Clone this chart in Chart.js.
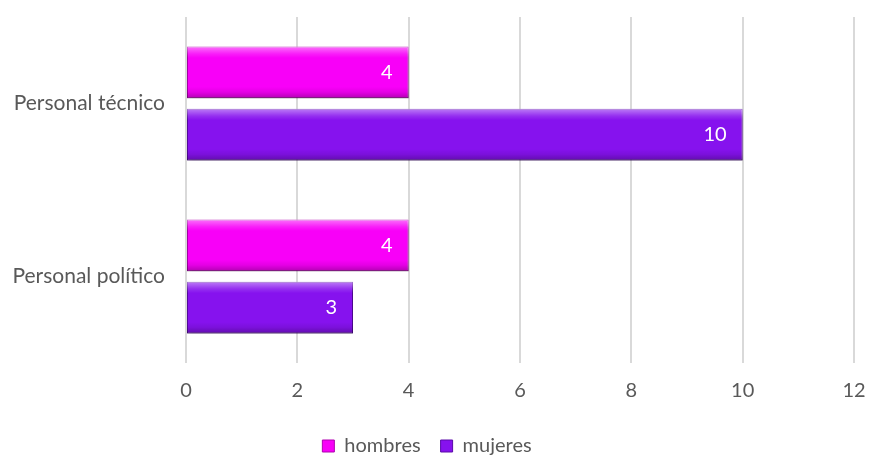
<!DOCTYPE html>
<html>
<head>
<meta charset="utf-8">
<script src="https://cdn.jsdelivr.net/npm/chart.js@4/dist/chart.umd.min.js"></script>
<style>
  body { margin: 0; background: #fff; }
</style>
</head>
<body>
<canvas id="myChart" width="869" height="455"></canvas>
<script>
// DATA
const categories = ['Personal técnico', 'Personal político'];
const hombres = [4, 4];
const mujeres = [10, 3];
const xTicks = [0, 2, 4, 6, 8, 10, 12];

const FONT = "'Lato', 'Open Sans', sans-serif";
const TEXT = '#595959';

// bevel + shadow look for the bars
const bevelPlugin = {
  id: 'bevel',
  beforeDatasetsDraw(chart) {
    const ctx = chart.ctx;
    ctx.save();
    ctx.shadowColor = 'rgba(0,0,0,0.28)';
    ctx.shadowBlur = 5;
    ctx.shadowOffsetX = 1;
    ctx.shadowOffsetY = 4;
  },
  afterDatasetsDraw(chart) {
    const ctx = chart.ctx;
    ctx.restore();
    chart.data.datasets.forEach(function(ds, di) {
      const meta = chart.getDatasetMeta(di);
      meta.data.forEach(function(bar, i) {
        const top = bar.y - bar.height / 2;
        const left = Math.min(bar.base, bar.x);
        const w = Math.abs(bar.x - bar.base);
        const h = bar.height;
        const g = ctx.createLinearGradient(0, top, 0, top + h);
        g.addColorStop(0, 'rgba(255,255,255,0.45)');
        g.addColorStop(0.14, 'rgba(255,255,255,0.12)');
        g.addColorStop(0.22, 'rgba(255,255,255,0)');
        g.addColorStop(0.78, 'rgba(0,0,0,0)');
        g.addColorStop(0.88, 'rgba(0,0,0,0.08)');
        g.addColorStop(1, 'rgba(0,0,0,0.28)');
        ctx.save();
        ctx.fillStyle = g;
        ctx.fillRect(left, top, w, h);
        // value label
        ctx.fillStyle = '#ffffff';
        ctx.font = '20px ' + FONT;
        ctx.textAlign = 'right';
        ctx.textBaseline = 'middle';
        ctx.fillText(String(ds.data[i]), bar.x - 16, bar.y);
        ctx.restore();
      });
    });
  }
};

const data = {
  labels: categories,
  datasets: [{
    label: 'hombres',
    data: hombres,
    backgroundColor: '#f800f8',
    borderColor: '#b000b0',
    borderWidth: 1,
    borderSkipped: false
  }, {
    label: 'mujeres',
    data: mujeres,
    backgroundColor: '#8612ee',
    borderColor: '#5a0aa8',
    borderWidth: 1,
    borderSkipped: false
  }]
};

const config = {
  type: 'bar',
  data,
  options: {
    indexAxis: 'y',
    responsive: false,
    animation: false,
    layout: {
      padding: { top: 17, right: 15, bottom: -11, left: 0 }
    },
    datasets: {
      bar: {
        categoryPercentage: 0.72,
        barPercentage: 0.83
      }
    },
    scales: {
      x: {
        min: 0,
        max: 12,
        afterBuildTicks(axis) {
          axis.ticks = xTicks.map(function(v) { return { value: v }; });
        },
        afterFit(axis) {
          axis.height = 53;
          axis.paddingLeft = 0;
          axis.paddingRight = 0;
        },
        grid: {
          color: '#d9d9d9',
          lineWidth: 2,
          drawTicks: false
        },
        border: { display: false },
        ticks: {
          color: TEXT,
          padding: 16,
          font: { family: FONT, size: 20 }
        }
      },
      y: {
        afterFit(axis) {
          axis.width = 186;
          axis.paddingTop = 0;
          axis.paddingBottom = 0;
        },
        grid: { display: false, drawTicks: false },
        border: { display: false },
        ticks: {
          color: TEXT,
          padding: 21,
          font: { family: FONT, size: 21 }
        }
      }
    },
    plugins: {
      legend: {
        position: 'bottom',
        labels: {
          color: TEXT,
          boxWidth: 12,
          boxHeight: 12,
          padding: 20,
          font: { family: FONT, size: 20 }
        }
      },
      tooltip: { enabled: false }
    }
  },
  plugins: [bevelPlugin]
};

const myChart = new Chart(document.getElementById('myChart'), config);
</script>
</body>
</html>
